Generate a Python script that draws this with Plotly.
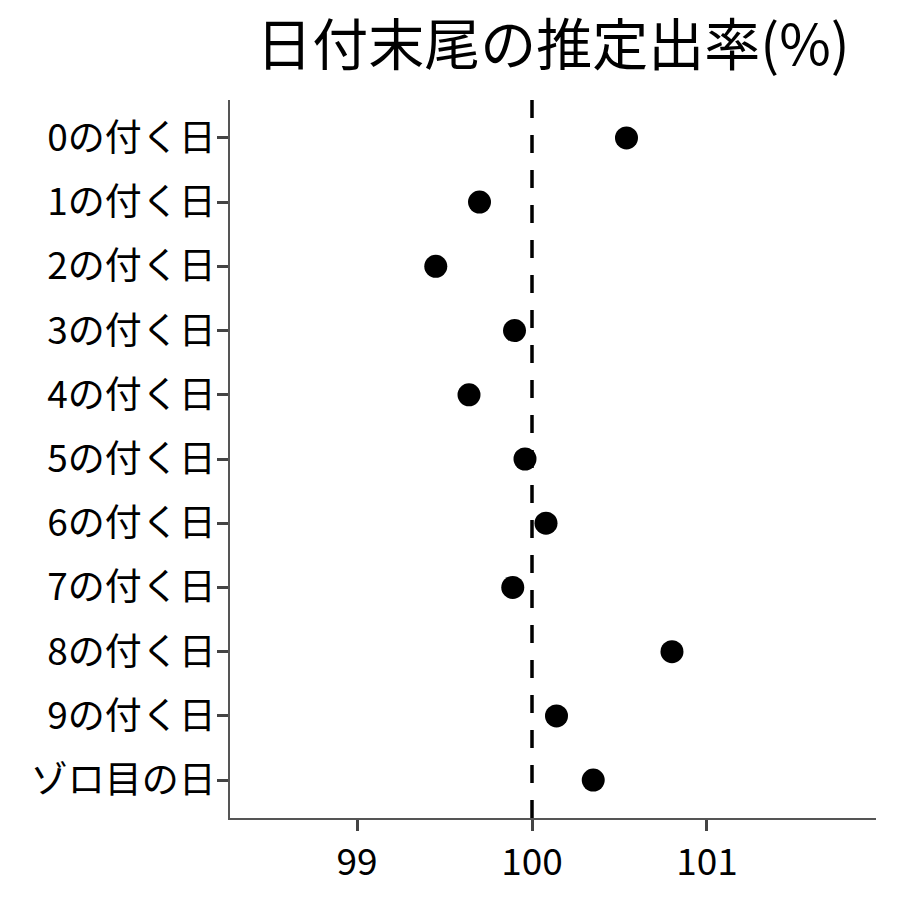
import plotly.graph_objects as go

categories = ["0の付く日", "1の付く日", "2の付く日", "3の付く日", "4の付く日",
              "5の付く日", "6の付く日", "7の付く日", "8の付く日", "9の付く日", "ゾロ目の日"]
values = [100.54, 99.70, 99.45, 99.90, 99.64, 99.96, 100.08, 99.89, 100.80, 100.14, 100.35]
x_ticks = [99, 100, 101]
ref_value = 100

font = "Noto Sans CJK JP"
fig = go.Figure()
fig.add_trace(go.Scatter(x=values, y=categories, mode="markers",
                         marker=dict(color="black", size=23), showlegend=False))
fig.add_shape(type="line", x0=ref_value, x1=ref_value, y0=0, y1=1, yref="paper",
              line=dict(color="black", width=3.5, dash="18px,17px"))
fig.update_layout(
    width=900, height=900,
    margin=dict(l=222, r=32, t=92, b=90, autoexpand=False),
    paper_bgcolor="white", plot_bgcolor="white",
    font=dict(family=font, color="black"),
    title=dict(text="日付末尾の推定出率(%)", x=0.5, xanchor="center", xref="paper",
               y=0.958, yanchor="middle", font=dict(size=56, family=font, color="black")),
    xaxis=dict(range=[98.274, 101.966], tickvals=x_ticks, showgrid=False, zeroline=False,
               showline=True, linecolor="#555555", linewidth=1.5,
               ticks="outside", ticklen=11, tickwidth=3, tickcolor="#444444",
               tickfont=dict(size=37, family=font, color="black")),
    yaxis=dict(categoryorder="array", categoryarray=categories, range=[10.59, -0.59],
               showgrid=False, zeroline=False,
               showline=True, linecolor="#555555", linewidth=1.5,
               ticks="outside", ticklen=11, tickwidth=3, tickcolor="#444444",
               ticklabelstandoff=-6,
               tickfont=dict(size=37, family=font, color="black")),
)
fig.write_html("out.html")
